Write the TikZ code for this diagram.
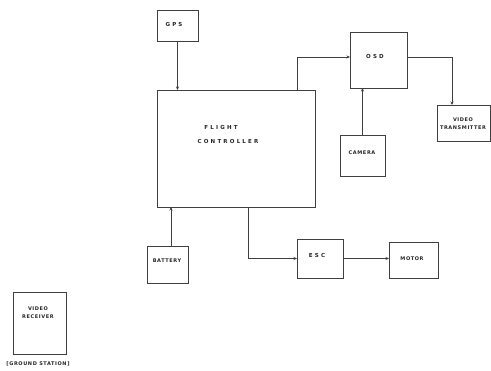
\documentclass[tikz,border=0pt]{standalone}
\usepackage{fontspec}
\newfontfamily\hand{DejaVu Sans}
\usetikzlibrary{arrows.meta}
\tikzset{
  box/.style={draw=black!75, line width=0.8pt, inner sep=0pt, outer sep=0pt},
  arr/.style={draw=black!75, line width=0.7pt, -{Stealth[length=3.5pt,width=3pt]}},
  lbl/.style={text=black!85, inner sep=0pt, font=\hand\bfseries\fontsize{5}{8}\selectfont\addfontfeatures{LetterSpace=12}, align=center},
  widelbl/.style={text=black!85, inner sep=0pt, font=\hand\bfseries\fontsize{5.5}{8}\selectfont\addfontfeatures{LetterSpace=40}, align=center}
}
\begin{document}
\begin{tikzpicture}[x=1pt,y=-1pt]
\useasboundingbox[fill=white] (0,0) rectangle (491,371);
% boxes
\node[box, minimum width=41pt, minimum height=31pt] (gps) at (177.5,25.5) {};
\node[box, minimum width=158pt, minimum height=117pt] (fc) at (236,148.5) {};
\node[box, minimum width=57pt, minimum height=56pt] (osd) at (378.5,60) {};
\node[box, minimum width=45pt, minimum height=41pt] (cam) at (362.5,155.5) {};
\node[box, minimum width=53pt, minimum height=36pt] (vt) at (463.5,123) {};
\node[box, minimum width=41pt, minimum height=37pt] (bat) at (167.5,264.5) {};
\node[box, minimum width=46pt, minimum height=39pt] (esc) at (320,258.5) {};
\node[box, minimum width=49pt, minimum height=36pt] (mot) at (413.5,260) {};
\node[box, minimum width=53pt, minimum height=62pt] (vr) at (39.5,323) {};
% labels
\node[widelbl] (tgps) at (174,25) {GPS};
\node[widelbl] (tfc1) at (221,128) {FLIGHT};
\node[widelbl] (tfc2) at (228,142) {CONTROLLER};
\node[widelbl] (tosd) at (375,57) {OSD};
\node[lbl] (tcam) at (362,153) {CAMERA};
\node[lbl] (tvt) at (463,123.5) {VIDEO\\TRANSMITTER};
\node[lbl] (tbat) at (167,261) {BATTERY};
\node[widelbl] (tesc) at (317,256) {ESC};
\node[lbl] (tmot) at (412,259) {MOTOR};
\node[lbl] (tvr) at (38,312.5) {VIDEO\\RECEIVER};
\node[lbl] (tgs) at (38,364) {[GROUND STATION]};
% connectors
\draw[arr] (gps.south) -- (gps.south |- fc.north);
\draw[arr] ([xshift=-18pt]fc.north east) |- ([yshift=3pt]osd.west);
\draw[arr] (cam.north) -- (cam.north |- osd.south);
\draw[arr] ([yshift=3pt]osd.east) -| ([xshift=-11.5pt]vt.north);
\draw[arr] ([xshift=3.5pt]bat.north) -- ([xshift=3.5pt]bat.north |- fc.south);
\draw[arr] ([xshift=12pt]fc.south) |- (esc.west);
\draw[arr] (esc.east) -- (esc.east -| mot.west);
\end{tikzpicture}
\end{document}
